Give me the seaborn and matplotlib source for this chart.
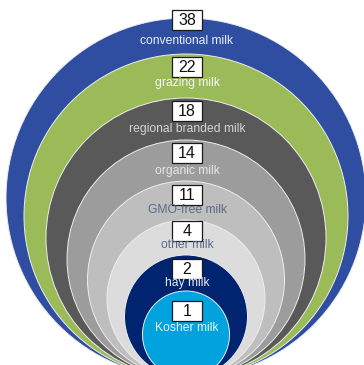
import matplotlib
matplotlib.use("Agg")
import matplotlib.pyplot as plt
from matplotlib.patches import Circle, Rectangle
import seaborn as sns

# data
categories = ["conventional milk", "grazing milk", "regional branded milk", "organic milk",
              "GMO-free milk", "other milk", "hay milk", "Kosher milk"]
values = [38, 22, 18, 14, 11, 4, 2, 1]

# layout (pixel coordinates, y down)
radii = [180, 162, 140, 119, 98.5, 79, 61.5, 43.5]
box_y = [20, 67, 111, 153, 194.5, 231, 269, 310.5]
text_y = [41, 83, 129, 171, 210, 245, 283, 328]
fill_colors = ["#2F4EA2", "#9BBB59", "#595959", "#9C9C9C", "#BEBEBE", "#DCDCDC", "#002470", "#00A3DE"]
text_colors = ["#E8EEF8", "#F4F4F4", "#D4D4D4", "#E6E6E6", "#5B6C88", "#5B6C88", "#E4EAF6", "#E6F4FB"]

sns.set_theme(style="white")
plt.rcParams['font.family'] = ['Liberation Sans', 'DejaVu Sans']

W, H = 364, 365
fig = plt.figure(figsize=(W / 100, H / 100), dpi=100)
ax = fig.add_axes([0, 0, 1, 1])
ax.set_xlim(0, W)
ax.set_ylim(H, 0)
ax.set_axis_off()

cx, bottom = 186, 378
for r, fc in zip(radii, fill_colors):
    ax.add_patch(Circle((cx, bottom - r), r, facecolor=fc, edgecolor="#EDEDED", lw=0.7))

for cat, val, by, ty, tc in zip(categories, values, box_y, text_y, text_colors):
    ax.add_patch(Rectangle((cx + 1 - 15, by - 10), 30, 20, facecolor="white",
                           edgecolor="#1A1A1A", lw=0.9, zorder=5))
    ax.text(cx + 1, by + 0.5, str(val), ha="center", va="center", fontsize=11.5,
            color="#111111", zorder=6)
    ax.text(cx + 1, ty, cat, ha="center", va="center", fontsize=8.7, color=tc, zorder=6)

fig.savefig("out.png", dpi=100)
